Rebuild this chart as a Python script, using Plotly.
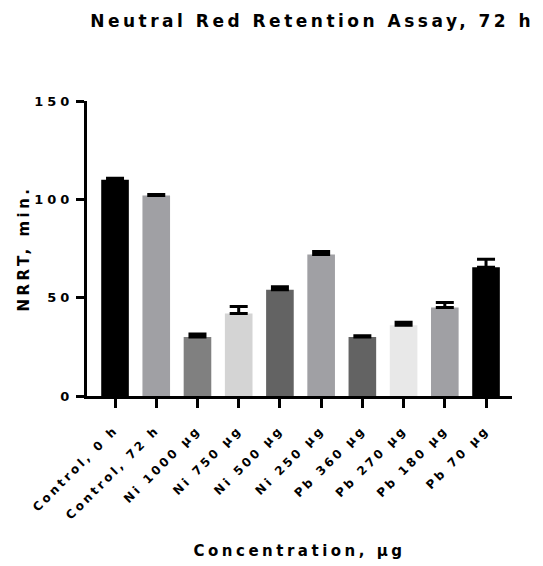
import plotly.graph_objects as go

# NRRT results per treatment group
categories = ["Control, 0 h", "Control, 72 h", "Ni 1000 µg", "Ni 750 µg", "Ni 500 µg",
              "Ni 250 µg", "Pb 360 µg", "Pb 270 µg", "Pb 180 µg", "Pb 70 µg"]
nrrt_mean = [110, 102, 30, 42, 54, 72, 30, 36, 45, 65.5]
nrrt_err = [0.7, 0.5, 1.5, 3.5, 1.5, 1.5, 0.6, 1.5, 2.5, 4]
bar_colors = ["#000000", "#a0a0a4", "#808080", "#d4d4d4", "#636363",
              "#a0a0a4", "#636363", "#e8e8e8", "#a0a0a4", "#000000"]

FONT = "DejaVu Sans"

fig = go.Figure(go.Bar(
    x=list(range(len(categories))),
    y=nrrt_mean,
    width=0.67,
    marker=dict(color=bar_colors, line=dict(width=0)),
    error_y=dict(type="data", array=nrrt_err, arrayminus=[0] * len(nrrt_err),
                 symmetric=False, color="#000000", thickness=3, width=9),
))

fig.update_layout(
    width=543, height=566,
    margin=dict(l=87, r=31, t=101, b=170),
    plot_bgcolor="white", paper_bgcolor="white",
    showlegend=False,
    font=dict(family=FONT, color="#000000", weight="bold"),
    title=dict(text="Neutral Red Retention Assay, 72 h", x=0.575, xanchor="center",
               y=0.962, yanchor="middle",
               font=dict(family=FONT, size=17, weight="bold")),
    xaxis=dict(
        range=[-0.68, 9.63], automargin=False,
        tickmode="array", tickvals=list(range(len(categories))), ticktext=categories,
        tickangle=-45, tickfont=dict(size=12, family=FONT, weight="bold"),
        ticklabelstandoff=10,
        showline=True, linecolor="#000000", linewidth=3,
        ticks="outside", ticklen=9, tickwidth=3, tickcolor="#000000",
        showgrid=False, zeroline=False,
        title=dict(text="Concentration, µg", standoff=52,
                   font=dict(size=15, family=FONT, weight="bold")),
    ),
    yaxis=dict(
        range=[0, 150], tickvals=[0, 50, 100, 150], automargin=False,
        tickfont=dict(size=13, family=FONT, weight="bold"),
        showline=True, linecolor="#000000", linewidth=3,
        ticks="outside", ticklen=8, tickwidth=3, tickcolor="#000000",
        showgrid=False, zeroline=False,
        title=dict(text="NRRT, min.", standoff=14,
                   font=dict(size=15, family=FONT, weight="bold")),
    ),
)

# widen the letter spacing of all chart text
spacing_js = """
var gd = document.getElementById('{plot_id}');
function spread(sel, v) {
  gd.querySelectorAll(sel).forEach(function (el) { el.style.letterSpacing = v; });
}
spread('.gtitle', '3.5px');
spread('.xtitle', '3.5px');
spread('.ytitle', '3.5px');
spread('.xtick text', '3px');
spread('.ytick text', '4px');
"""

fig.write_html("out.html", post_script=spacing_js)
